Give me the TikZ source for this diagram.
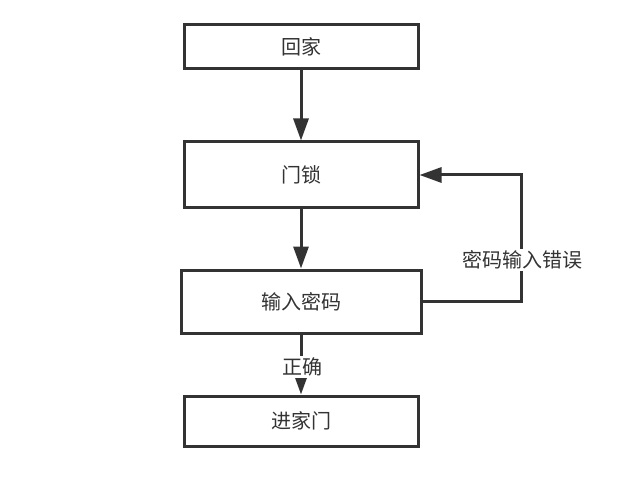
\documentclass[tikz,border=0pt]{standalone}
\usepackage{fontspec}
\newfontfamily\cjk{Noto Sans CJK SC}
\usetikzlibrary{arrows.meta}
\definecolor{ln}{HTML}{333333}
\begin{document}
\begin{tikzpicture}[x=1pt,y=-1pt,
  box/.style={draw=ln,line width=3pt,fill=white,inner sep=0pt,font=\cjk\fontsize{20}{20}\selectfont,text=ln},
  conn/.style={draw=ln,line width=3pt,-{Triangle[length=22pt,width=15pt]}},
  lbl/.style={fill=white,inner sep=2pt,font=\cjk\fontsize{20}{20}\selectfont,text=ln}]
\useasboundingbox (0,0) rectangle (643,500);
\node[box,minimum width=234pt,minimum height=44pt] (a) at (301,47) {回家};
\node[box,minimum width=234pt,minimum height=66pt] (b) at (301,175) {门锁};
\node[box,minimum width=240pt,minimum height=63pt] (c) at (301,301.5) {输入密码};
\node[box,minimum width=234pt,minimum height=50pt] (d) at (301,421) {进家门};
\coordinate (r1) at (521,301.5);
\coordinate (r2) at (521,175);
\draw[conn] (a) -- (b);
\draw[conn] (b) -- (c);
\draw[conn] (c) -- (d);
\draw[conn] (c.east) -- (r1) -- (r2) -- (b.east);
\node[lbl] (l1) at (302,367) {正确};
\node[lbl] (l2) at (522,260) {密码输入错误};
\end{tikzpicture}
\end{document}
